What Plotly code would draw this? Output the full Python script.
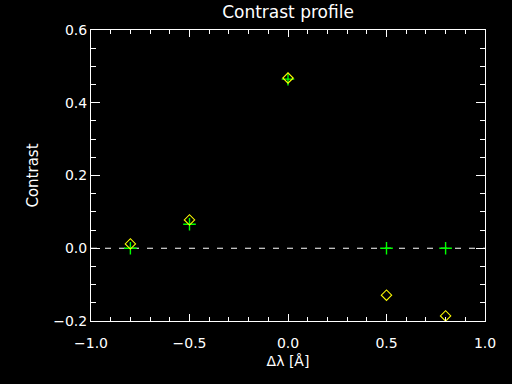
import plotly.graph_objects as go

# Data
dlambda = [-0.8, -0.5, 0.0, 0.5, 0.8]
contrast_plus = [0.0, 0.066, 0.465, 0.0, 0.0]
contrast_diamond = [0.012, 0.078, 0.468, -0.129, -0.186]
xticks = [-1.0, -0.5, 0.0, 0.5, 1.0]
yticks = [-0.2, 0.0, 0.2, 0.4, 0.6]

FONT = "DejaVu Sans"

fig = go.Figure()
fig.add_trace(go.Scatter(x=[-1.0, 1.0], y=[0.0, 0.0], mode="lines",
                         line=dict(color="white", width=1.2, dash="6px,8px"),
                         hoverinfo="skip", showlegend=False))
fig.add_trace(go.Scatter(x=dlambda, y=contrast_plus, mode="markers",
                         marker=dict(symbol="cross-thin", size=9,
                                     line=dict(color="#00ff00", width=1.4)),
                         showlegend=False))
fig.add_trace(go.Scatter(x=dlambda, y=contrast_diamond, mode="markers",
                         marker=dict(symbol="diamond-open", size=8, color="yellow",
                                     line=dict(color="yellow", width=1.1)),
                         showlegend=False))

axis_common = dict(showline=True, linecolor="white", linewidth=1, mirror="allticks",
                   ticks="inside", tickcolor="white", showgrid=False, zeroline=False,
                   tickfont=dict(family=FONT, size=14, color="white"))

fig.update_layout(
    width=512, height=384,
    margin=dict(l=91, r=27, t=30, b=63),
    paper_bgcolor="black", plot_bgcolor="black",
    title=dict(text="Contrast profile", x=(91 + 485) / 2 / 512, xanchor="center",
               y=1 - 12 / 384, yanchor="middle", yref="container",
               font=dict(family=FONT, size=17, color="white")),
    xaxis=dict(range=[-1.0, 1.0], tickvals=xticks, ticktext=["\u22121.0", "\u22120.5", "0.0", "0.5", "1.0"],
               ticklen=7, minor=dict(dtick=0.1, ticklen=4, ticks="inside", tickcolor="white"),
               ticklabelstandoff=9,
               title=dict(text="\u0394\u03bb [\u00c5]", standoff=6,
                          font=dict(family=FONT, size=14, color="white")),
               **axis_common),
    yaxis=dict(range=[-0.2, 0.6], tickvals=yticks, ticktext=["\u22120.2", "0.0", "0.2", "0.4", "0.6"],
               ticklen=9, minor=dict(dtick=0.05, ticklen=5, ticks="inside", tickcolor="white"),
               title=dict(text="Contrast", standoff=10,
                          font=dict(family=FONT, size=15, color="white")),
               **axis_common),
)

fig.write_html("out.html", config={"displayModeBar": False},
               post_script="document.body.style.margin='0';document.body.style.background='black';")
